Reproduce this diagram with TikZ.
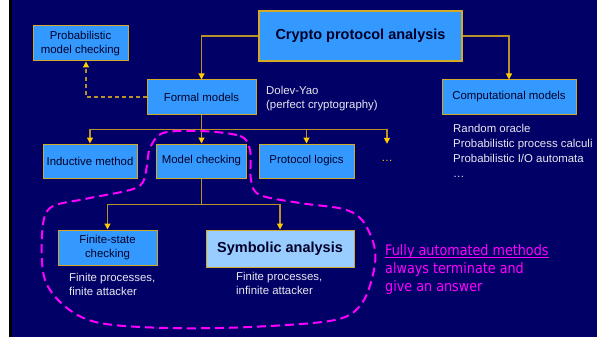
\documentclass[tikz,border=0pt]{standalone}
\usepackage{fontspec}
\setmainfont{Liberation Sans}
\newfontfamily\magfont[FakeStretch=0.88]{DejaVu Sans}
\usepackage{tikz}
\usetikzlibrary{arrows.meta}
\usetikzlibrary{calc}

\definecolor{slidebg}{RGB}{0,0,102}
\definecolor{boxblue}{RGB}{51,153,255}
\definecolor{lightblue}{RGB}{153,204,255}
\definecolor{boxline}{RGB}{210,170,40}
\definecolor{wirecol}{RGB}{185,145,40}
\definecolor{tipyellow}{RGB}{255,204,0}
\definecolor{boxtext}{RGB}{0,0,40}
\definecolor{notetext}{RGB}{232,232,240}
\definecolor{magentaline}{RGB}{255,0,255}

\newcommand{\magunder}[1]{\setbox0\hbox{#1}\rlap{\rule[-2.2pt]{\wd0}{0.9pt}}\box0}

\tikzset{
  box/.style={draw=boxline, fill=boxblue, line width=1pt, inner sep=0pt,
    align=center, text=boxtext, font=\fontsize{11.4}{13.5}\selectfont},
  bigbox/.style={box, font=\fontsize{14.5}{16}\selectfont\bfseries},
  wire/.style={draw=wirecol, line width=1.2pt},
  tip/.style={-{Triangle[width=6pt,length=6pt,color=tipyellow]}},
  note/.style={inner sep=0pt, align=left, anchor=north west, text=notetext,
    font=\fontsize{11.4}{14.5}\selectfont},
  magnote/.style={inner sep=0pt, align=left, anchor=north west, text=magentaline,
    font=\magfont\fontsize{14.5}{18}\selectfont},
  loopline/.style={draw=magentaline, line width=2pt, dash pattern=on 9pt off 5pt}
}

\begin{document}
\begin{tikzpicture}[x=1pt, y=-1pt]

  \useasboundingbox (0,0) rectangle (597,337);

  % Slide background
  \fill[white] (0,0) rectangle (9,337);
  \fill[black] (9,0) rectangle (12,337);
  \fill[slidebg] (12,0) rectangle (597,337);

  % Boxes
  \node[bigbox, line width=1.5pt, minimum width=203pt, minimum height=50pt]
    (crypto) at (360.5,36) {Crypto protocol analysis};
  \node[box, minimum width=95pt, minimum height=35pt]
    (prob) at (80.5,43.5) {Probabilistic\\model checking};
  \node[box, minimum width=109pt, minimum height=34pt]
    (formal) at (201.5,97) {Formal models};
  \node[box, minimum width=134pt, minimum height=34pt]
    (comp) at (509,97) {Computational models};

  \node[box, minimum width=94pt, minimum height=34pt]
    (induct) at (90,161) {Inductive method};
  \node[box, minimum width=90pt, minimum height=34pt]
    (modelchk) at (201.5,161) {Model checking};
  \node[box, minimum width=95pt, minimum height=34pt]
    (protlog) at (306.5,161) {Protocol logics};
  \node[inner sep=0pt, minimum height=34pt, text=tipyellow,
    font=\fontsize{11.4}{13.5}\selectfont]
    (moredots) at (387,161) {\dots};

  \node[box, minimum width=99pt, minimum height=35pt]
    (finite) at (107.5,247.5) {Finite-state\\checking};
  \node[bigbox, fill=lightblue, minimum width=148pt, minimum height=37pt]
    (symbolic) at (280,248.5) {Symbolic analysis};

  % Side notes
  \node[note] (dolev) at (266,86) {Dolev-Yao\\(perfect cryptography)};
  \node[note, font=\fontsize{11.4}{15}\selectfont] (compnote) at (453,124)
    {Random oracle\\Probabilistic process calculi\\Probabilistic I/O automata\\\dots};
  \node[note] (finnote) at (69,273) {Finite processes,\\finite attacker};
  \node[note] (symnote) at (236,272) {Finite processes,\\infinite attacker};
  \node[magnote] (automated) at (385,244)
    {\magunder{Fully automated methods}\\always terminate and\\give an answer};

  % Connectors
  \draw[wire, tip] (crypto.west) -| (formal.north);
  \draw[wire, tip] (crypto.east) -| (comp.north);
  \draw[wire, tip, dash pattern=on 4pt off 3pt] (formal.west) -| ([xshift=5.5pt]prob.south);

  \draw[wire] (formal.south) -- ++(0,15) coordinate (fbus);
  \draw[wire, tip] (fbus) -| (induct.north);
  \draw[wire, tip] (fbus) -- (modelchk.north);
  \draw[wire, tip] (fbus) -| (protlog.north);
  \draw[wire, tip] (fbus) -| (moredots.north);

  \draw[wire] (modelchk.south) -- ++(0,26) coordinate (mbus);
  \draw[wire, tip] (mbus) -| (finite.north);
  \draw[wire, tip] (mbus) -| (symbolic.north);

  % Dashed region of the automated methods
  \draw[loopline] plot[smooth cycle, tension=0.55] coordinates {
    (200,131) (240,136) (250,150) (251,180) (260,195) (300,203)
    (343,209) (362,220) (374,245) (374,270) (362,303) (335,320)
    (250,327) (167,328) (100,323) (67,308) (45,280) (42,235)
    (50,208) (85,199) (130,190) (143,182) (147,165) (150,148) (163,133)
  };

\end{tikzpicture}
\end{document}
